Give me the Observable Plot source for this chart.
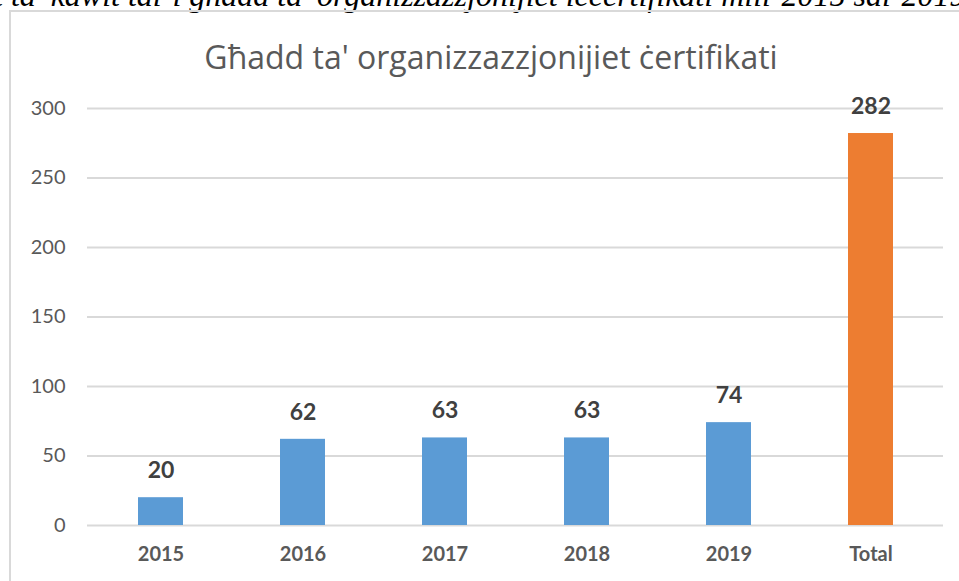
<!DOCTYPE html>
<html>
<head>
<meta charset="utf-8">
<script src="https://cdn.jsdelivr.net/npm/d3@7"></script>
<script src="https://cdn.jsdelivr.net/npm/@observablehq/plot@0.6"></script>
<style>
  html, body { margin: 0; padding: 0; background: #fff; }
  #wrap { position: relative; width: 959px; height: 581px; overflow: hidden; background: #fff; }
  #caption { position: absolute; left: -6px; top: -21px; white-space: nowrap; line-height: 32px;
    font-family: "Liberation Serif", serif; font-style: italic; font-size: 32px; color: #000; }
  #frame { position: absolute; left: 9px; top: 10px; width: 980px; height: 620px;
    border: 2px solid #d9d9d9; box-sizing: border-box; }
  #title { position: absolute; left: 0; width: 982px; top: 36px; text-align: center; line-height: 42px;
    font-family: "Open Sans", Lato, sans-serif; font-size: 32px; color: #595959; }
  #chart { position: absolute; left: 0; top: 0; }
</style>
</head>
<body>
<div id="wrap">
  <div id="caption">t ta' kawlt tal-i għadd ta' organizzazzjonijiet iċċertifikati mill-2015 sal-2019</div>
  <div id="frame"></div>
  <div id="title">Għadd ta' organizzazzjonijiet ċertifikati</div>
  <div id="chart"></div>
</div>
<script>
const categories = ["2015", "2016", "2017", "2018", "2019", "Total"];
const values = [20, 62, 63, 63, 74, 282];
const barColors = ["#5B9BD5", "#5B9BD5", "#5B9BD5", "#5B9BD5", "#5B9BD5", "#ED7D31"];
const yTicks = [0, 50, 100, 150, 200, 250, 300];

const data = categories.map((c, i) => ({category: c, value: values[i], color: barColors[i]}));

const chart = Plot.plot({
  width: 959,
  height: 581,
  marginLeft: 87,
  marginRight: 16,
  marginTop: 108,
  marginBottom: 56,
  style: {background: "transparent", fontFamily: "Lato, 'Open Sans', sans-serif"},
  x: {domain: categories, paddingInner: 0.685, paddingOuter: 0.3425, label: null},
  y: {domain: [0, 300], label: null},
  marks: [
    Plot.ruleY(yTicks, {stroke: "#d9d9d9", strokeWidth: 1.8, strokeOpacity: 1}),
    Plot.barY(data, {x: "category", y: "value", fill: "color"}),
    Plot.text(data, {x: "category", y: "value", text: d => String(d.value), dy: -27,
      fontSize: 23, fontWeight: "bold", fill: "#404040", lineAnchor: "middle"}),
    Plot.axisY(yTicks, {tickSize: 0, tickPadding: 22, fontSize: 20, color: "#595959", label: null}),
    Plot.axisX({tickSize: 0, tickPadding: 21, fontSize: 20, fontWeight: "bold", color: "#595959", label: null})
  ]
});
document.getElementById("chart").appendChild(chart);
</script>
</body>
</html>
